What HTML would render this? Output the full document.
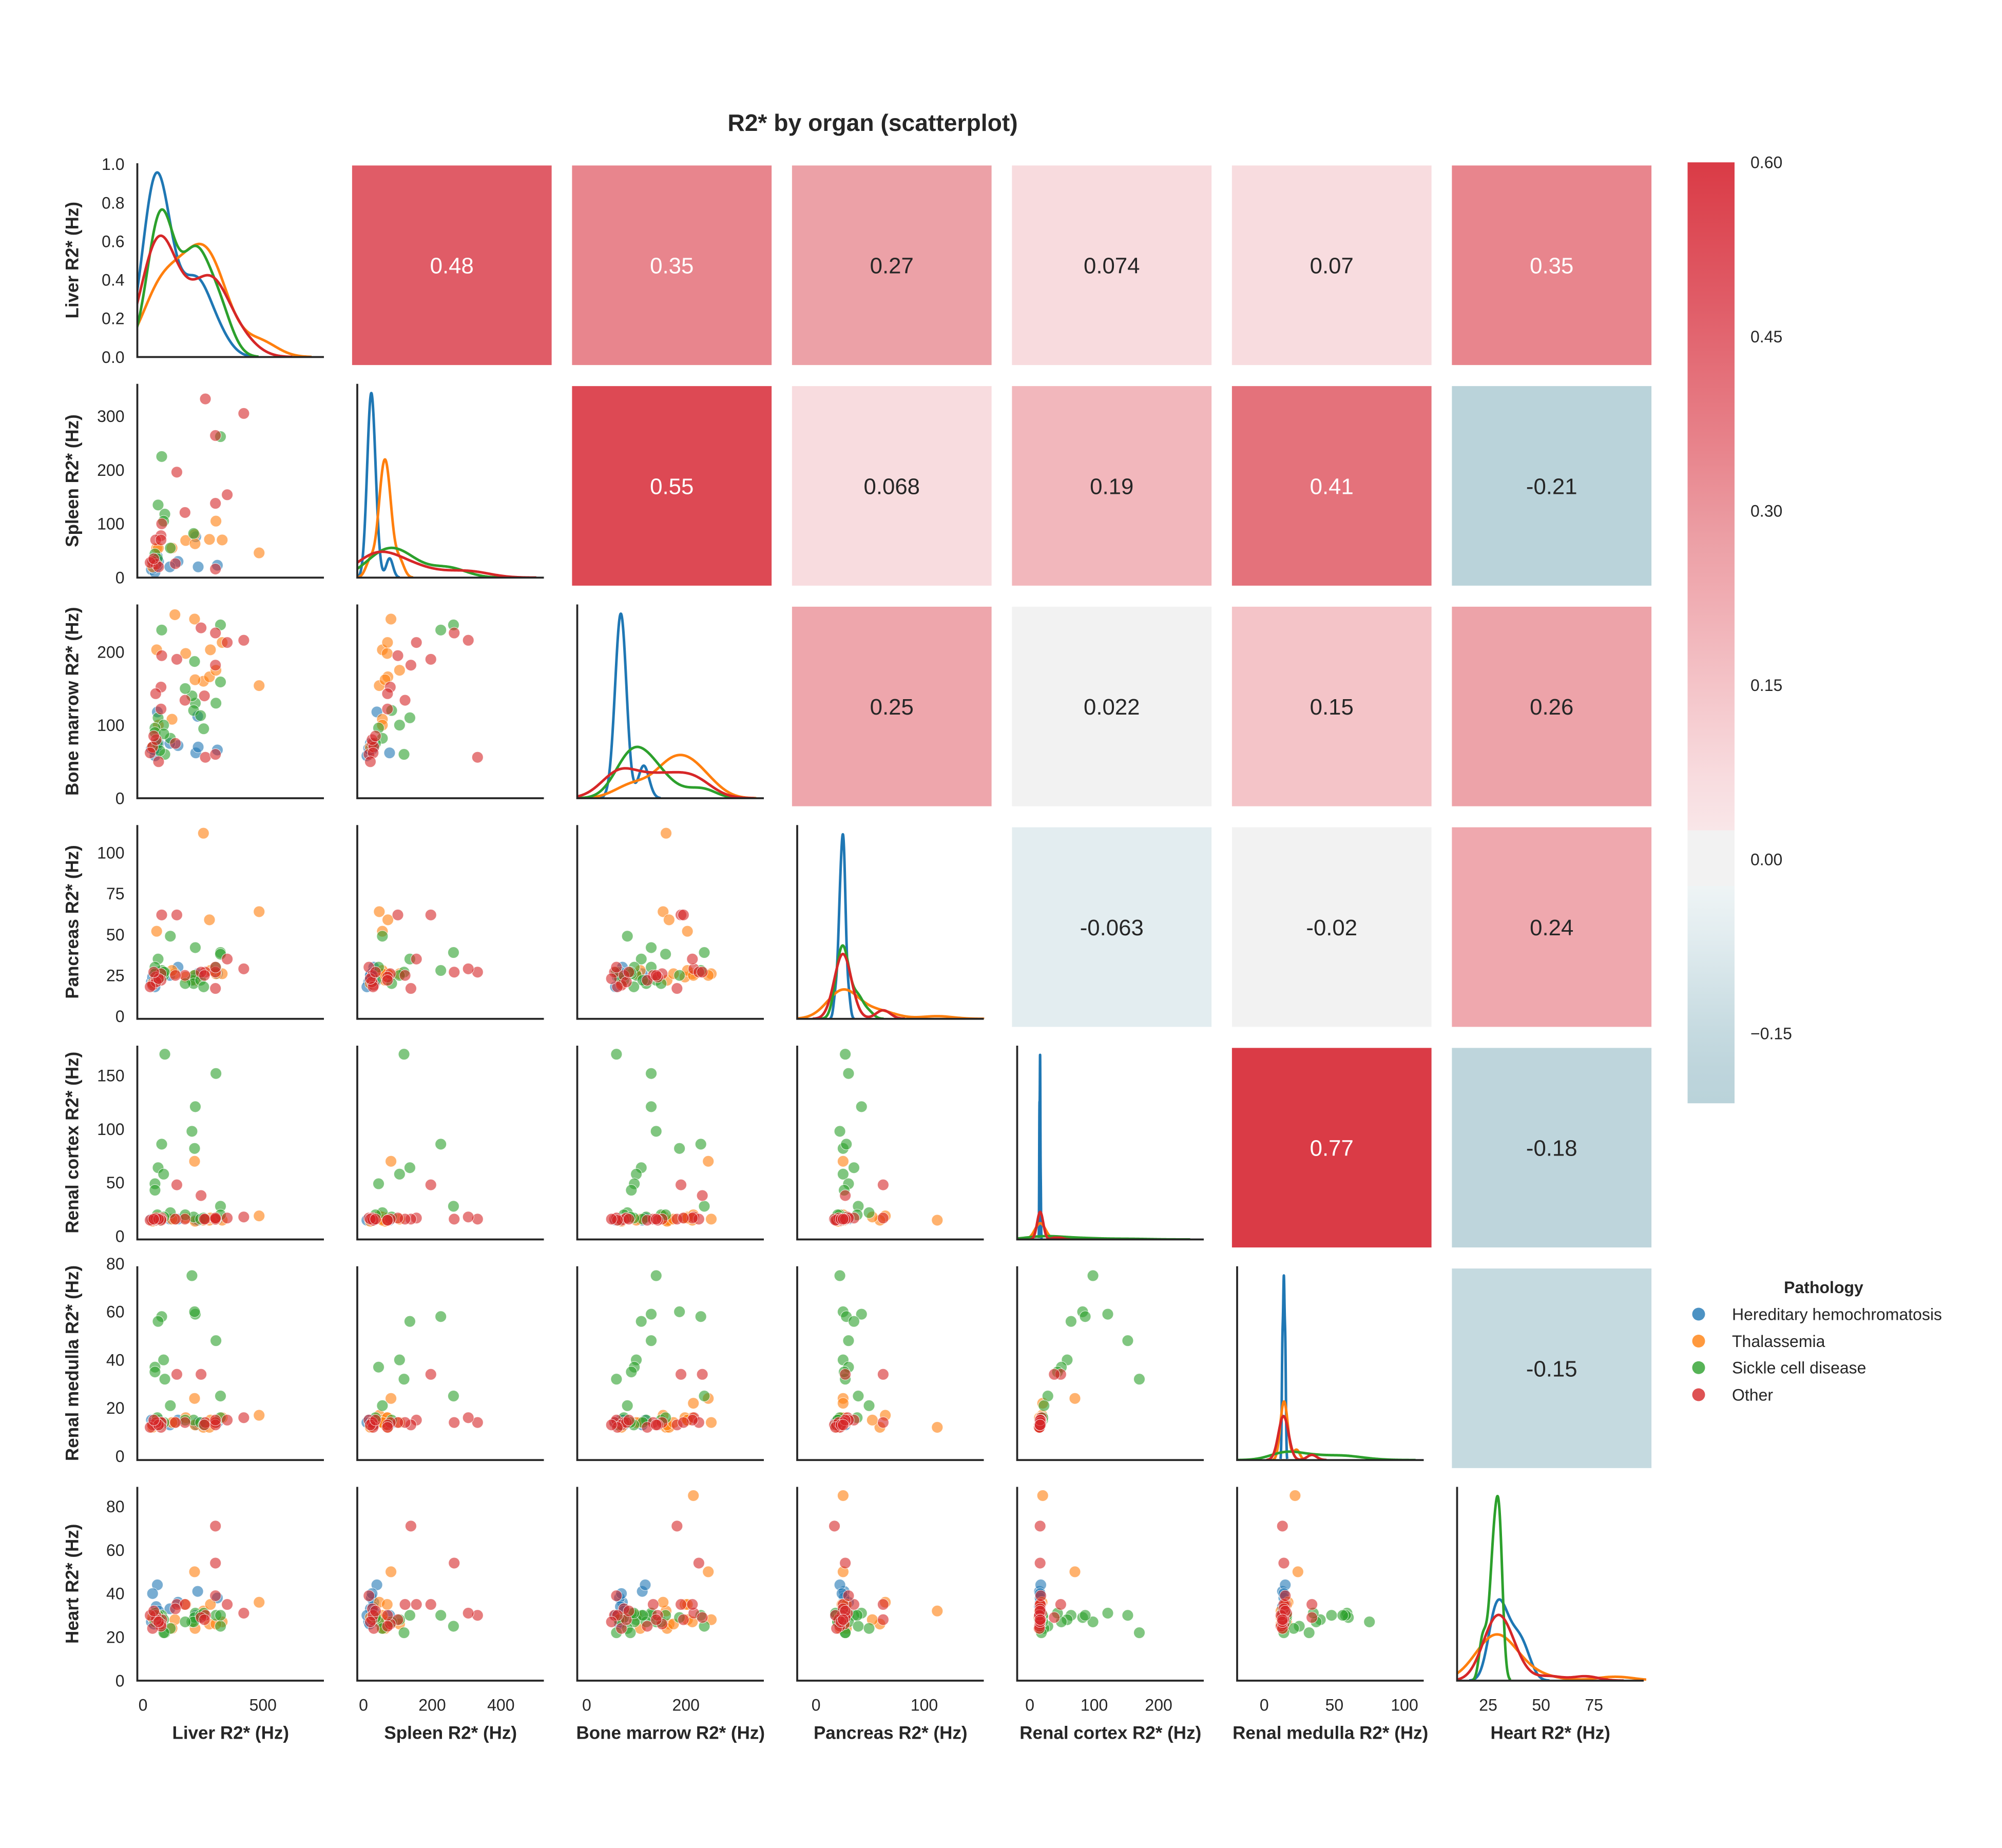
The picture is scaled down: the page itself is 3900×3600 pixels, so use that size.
<!DOCTYPE html>
<html>
<head>
<meta charset="utf-8">
<style>
html,body{margin:0;padding:0;background:#fff;}
svg{display:block;font-family:"Liberation Sans",Arial,sans-serif;}
</style>
</head>
<body>
<svg id="chart" xmlns="http://www.w3.org/2000/svg" width="3900" height="3600" viewBox="0 0 1560 1440">
  <rect x="0" y="0" width="1560" height="1440" fill="#ffffff"/>
  <text x="680" y="102" text-anchor="middle" font-size="18.5" font-weight="bold" fill="#262626">R2* by organ (scatterplot)</text>
  <g id="panels"></g>
  <g id="colorbar"></g>
  <g id="legend"></g>
</svg>
<script>
// ---------- DATA ----------
const varNames = ["Liver R2* (Hz)","Spleen R2* (Hz)","Bone marrow R2* (Hz)","Pancreas R2* (Hz)","Renal cortex R2* (Hz)","Renal medulla R2* (Hz)","Heart R2* (Hz)"];
const groupNames = ["Hereditary hemochromatosis","Thalassemia","Sickle cell disease","Other"];
const groupColors = ["#1f77b4","#ff7f0e","#2ca02c","#d62728"];
const patientGroup = [
  0,0,0,0,0,0,0,0,0,0,0,0,0,0,
  1,1,1,1,1,1,1,1,1,1,1,1,1,1,1,
  2,2,2,2,2,2,2,2,2,2,2,2,2,2,2,2,2,2,2,2,
  3,3,3,3,3,3,3,3,3,3,3,3,3,3,3,3,3,3,3,3
];
const liver    = [228,146,220,60,230,310,112,35,50,40,55,60,65,45,   133,252,215,484,277,57,330,178,217,121,64,281,40,304,null,   91,304,218,204,215,78,63,86,50,50,323,114,211,240,253,60,70,176,87,323,   260,420,302,141,351,302,175,78,75,53,75,242,302,135,40,55,30,65,45,256];
const spleen   = [null,30,76,39,20,23,20,15,10,25,28,22,30,18,        null,null,80,46,71,55,70,69,63,55,55,null,20,105,null, 118,null,null,null,null,225,135,105,44,null,262,55,82,null,null,35,null,null,null,null, 332,305,264,196,154,138,121,100,78,70,70,null,16,26,30,25,28,20,35,null];
const marrow   = [112,72,62,118,70,66,75,68,58,70,68,72,75,66,        251,160,245,154,166,203,213,198,162,108,100,203,70,175,215, 60,130,130,140,187,230,110,100,96,90,237,82,120,113,95,75,65,150,88,159, 56,216,226,190,213,182,134,195,152,143,122,233,60,75,70,80,62,50,85,140];
const pancreas = [26,30,24,22,25,26,25,21,18,24,27,23,26,22,          26,112,25,64,59,52,26,24,22,28,26,28,20,26,25,       27,30,42,22,25,28,35,25,30,26,39,49,20,22,18,22,24,20,27,38,  27,29,27,62,35,17,25,62,26,24,22,27,30,25,19,21,18,23,27,25];
const cortex   = [15,16,15,17,15,16,16,16,15,16,15,16,17,16,          16,15,70,19,15,18,15,17,14,16,15,17,14,16,20,        170,152,121,98,82,86,64,58,49,43,28,22,18,16,17,20,15,20,18,20,  16,18,16,48,17,16,16,17,16,15,15,38,17,16,15,17,15,16,16,16];
const medulla  = [13,15,13,15,14,14,13,15,14,14,13,14,15,14,          14,12,24,17,12,15,16,16,13,14,14,15,12,14,22,        32,48,59,75,60,58,56,40,37,35,25,21,15,14,13,16,13,15,14,16,  14,16,14,34,15,13,14,14,14,13,12,34,15,14,13,14,12,13,15,13];
const heart    = [41,36,30,44,29,38,33,27,30,40,34,28,32,26,          28,32,50,36,26,28,27,35,24,24,30,35,29,26,85,        22,30,31,27,29,30,30,28,27,31,25,24,27,30,31,29,28,27,22,30,  30,31,54,35,35,71,35,28,26,30,25,29,39,33,24,28,30,27,32,28];
const seriesByVar = [liver, spleen, marrow, pancreas, cortex, medulla, heart];
const corrRows = [0,0,0,0,0,0, 1,1,1,1,1, 2,2,2,2, 3,3,3, 4,4, 5];
const corrCols = [1,2,3,4,5,6, 2,3,4,5,6, 3,4,5,6, 4,5,6, 5,6, 6];
const corrVals = [0.48,0.35,0.27,0.074,0.07,0.35, 0.55,0.068,0.19,0.41,-0.21, 0.25,0.022,0.15,0.26, -0.063,-0.02,0.24, 0.77,-0.18, -0.15];
const xMin = [-23.6,-18,-19,-17.4,-19.6,-19.3,10.3];
const xMax = [754,525,357,155,270,113.7,98.5];
const yMin = [0,0,0,-1.6,-3,-1.6,0];
const yMax = [1.005,360,265,117,178,78.9,89];
const xTicks = [[0,500],[0,200,400],[0,200],[0,100],[0,100,200],[0,50,100],[25,50,75]];
const yTicks = [[0,0.2,0.4,0.6,0.8,1.0],[0,100,200,300],[0,100,200],[0,25,50,75,100],[0,50,100,150],[0,20,40,60,80],[0,20,40,60,80]];
const cbTicks = [0.60,0.45,0.30,0.15,0.00,-0.15];
const cbMin = -0.21, cbMax = 0.60;

// ---------- LAYOUT ----------
const NS = "http://www.w3.org/2000/svg";
const AX0 = 107, COLP = 171.4, AW = 145.4;
const AY0 = 127.2, ROWP = 171.9, AH = 151;
function colX(c){ return AX0 + c*COLP; }
function rowY(r){ return AY0 + r*ROWP; }
function sx(c, v){ return colX(c) + (v - xMin[c])/(xMax[c]-xMin[c])*AW; }
function sy(r, v){ return rowY(r) + AH - (v - yMin[r])/(yMax[r]-yMin[r])*AH; }
function mk(tag, attrs, parent){ const e=document.createElementNS(NS,tag); for(const k in attrs) e.setAttribute(k,attrs[k]); parent.appendChild(e); return e; }

const cmStops = [[-0.21,[186,211,218]],[-0.18,[190,213,220]],[-0.15,[197,218,224]],[-0.063,[227,237,240]],[-0.023,[238,244,245]],[-0.0229,[242,242,242]],[0.025,[242,242,242]],[0.0251,[249,230,232]],[0.07,[248,220,223]],[0.24,[239,168,174]],[0.27,[236,161,167]],[0.35,[232,133,141]],[0.48,[224,92,103]],[0.6,[218,59,70]]];
function cmap(v){
  if(v<=cmStops[0][0]) return "rgb("+cmStops[0][1].join(",")+")";
  for(let i=1;i<cmStops.length;i++){
    if(v<=cmStops[i][0]){
      const a=cmStops[i-1], b=cmStops[i], t=(v-a[0])/(b[0]-a[0]);
      return "rgb("+a[1].map((q,k)=>Math.round(q+(b[1][k]-q)*t)).join(",")+")";
    }
  }
  return "rgb("+cmStops[cmStops.length-1][1].join(",")+")";
}

const panels = document.getElementById("panels");

function kdeGroup(vals){
  const n = vals.length; if(n<2) return null;
  const mean = vals.reduce((a,b)=>a+b,0)/n;
  const sd = Math.sqrt(vals.reduce((a,b)=>a+(b-mean)*(b-mean),0)/(n-1));
  const bw = Math.max(sd,1e-6)*Math.pow(n,-0.2);
  return {bw, f:(x)=>{ let s=0; for(const v of vals){ const z=(x-v)/bw; s+=Math.exp(-0.5*z*z);} return s/(n*bw*Math.sqrt(2*Math.PI)); }, lo:Math.min(...vals)-3*bw, hi:Math.max(...vals)+3*bw};
}

for(let r=0;r<7;r++){
  for(let c=0;c<7;c++){
    const x0=colX(c), y0=rowY(r);
    if(c>r){
      let idx=-1; for(let i=0;i<corrVals.length;i++){ if(corrRows[i]===r && corrCols[i]===c) idx=i; }
      const v = corrVals[idx];
      const cx = x0+AW/2+1, cy = y0+AH/2+4;
      const cell = mk("rect",{x:cx-77.75,y:cy-77.75,width:155.5,height:155.5,fill:cmap(v)},panels);
      
      
      const t = mk("text",{x:cx,y:cy+6.3,"text-anchor":"middle","font-size":"17.5",fill:(v>0.3?"#ffffff":"#262626")},panels);
      t.textContent = String(v);
      
      
      continue;
    }
    const g = mk("g",{},panels);
    
    
    const clipId = "clip"+r+"_"+c;
    const cp = mk("clipPath",{id:clipId},g);
    mk("rect",{x:x0,y:y0-3,width:AW+2,height:AH+3},cp);
    const plot = mk("g",{"clip-path":"url(#"+clipId+")"},g);
    if(r===c){
      const data = seriesByVar[c];
      const curves=[]; let maxD=0;
      for(let gi=0;gi<4;gi++){
        const vals=[]; for(let i=0;i<data.length;i++) if(patientGroup[i]===gi && data[i]!==null) vals.push(data[i]);
        const k=kdeGroup(vals); if(!k){curves.push(null);continue;}
        const pts=[];
        const N=300;
        for(let j=0;j<=N;j++){ const x=k.lo+(k.hi-k.lo)*j/N; const d=k.f(x); pts.push([x,d]); if(d>maxD) maxD=d; }
        curves.push(pts);
      }
      const top = maxD*1.05;
      curves.forEach((pts,gi)=>{
        if(!pts) return;
        const d = pts.map((p,j)=>(j?"L":"M")+sx(c,p[0]).toFixed(2)+","+(y0+AH-p[1]/top*AH).toFixed(2)).join(" ");
        const pth = mk("path",{d:d,fill:"none",stroke:groupColors[gi],"stroke-width":"2","stroke-linejoin":"round"},plot);
        
        
      });
    } else {
      const xs = seriesByVar[c], ys = seriesByVar[r];
      for(let gi=0;gi<4;gi++){
        for(let i=0;i<xs.length;i++){
          if(patientGroup[i]!==gi || xs[i]===null || ys[i]===null) continue;
          const pt = mk("circle",{cx:sx(c,xs[i]).toFixed(2),cy:sy(r,ys[i]).toFixed(2),r:"4.4",fill:groupColors[gi],"fill-opacity":"0.6",stroke:"#ffffff","stroke-width":"0.4","stroke-opacity":"0.8"},plot);
          
          
        }
      }
    }
    const sp = mk("path",{d:"M"+x0+","+y0+" L"+x0+","+(y0+AH)+" L"+(x0+AW)+","+(y0+AH),fill:"none",stroke:"#262626","stroke-width":"1.5"},g);
    
    
    if(c===0){
      for(const tv of yTicks[r]){
        const t = mk("text",{x:x0-10,y:(sy(r,tv)+4.5).toFixed(2),"text-anchor":"end","font-size":"12.8",fill:"#262626"},g);
        t.textContent = r===0 ? tv.toFixed(1) : String(tv);
        
        
      }
      const yl = mk("text",{x:0,y:0,transform:"translate(61,"+(y0+AH/2)+") rotate(-90)","text-anchor":"middle","font-size":"14","font-weight":"bold",fill:"#262626"},g);
      yl.textContent = varNames[r];
      
      
    }
    if(r===6){
      for(const tv of xTicks[c]){
        const t = mk("text",{x:sx(c,tv).toFixed(2),y:"1333","text-anchor":"middle","font-size":"12.8",fill:"#262626"},g);
        t.textContent = String(tv);
        
        
      }
      const xl = mk("text",{x:x0+AW/2,y:"1355","text-anchor":"middle","font-size":"14","font-weight":"bold",fill:"#262626"},g);
      xl.textContent = varNames[c];
      
      
    }
  }
}

// ---------- COLORBAR ----------
const cb = document.getElementById("colorbar");
const CBX=1315, CBW=36.6, CBT=126.5, CBB=859.7;
function cby(v){ return CBT + (cbMax - v)/(cbMax-cbMin)*(CBB-CBT); }
const defs = mk("defs",{},cb);
const lg = mk("linearGradient",{id:"cbgrad",x1:"0",y1:"1",x2:"0",y2:"0"},defs);
for(const s of cmStops){
  mk("stop",{offset:((s[0]-cbMin)/(cbMax-cbMin)).toFixed(4),"stop-color":"rgb("+s[1].join(",")+")"},lg);
}
const cbr = mk("rect",{x:CBX,y:CBT,width:CBW,height:CBB-CBT,fill:"url(#cbgrad)"},cb);


for(const tv of cbTicks){
  const t = mk("text",{x:"1364",y:(cby(tv)+4.5).toFixed(2),"font-size":"12.8",fill:"#262626"},cb);
  t.textContent = (tv<0?"\u2212":"") + Math.abs(tv).toFixed(2);
  
  
}

// ---------- LEGEND ----------
const lgd = document.getElementById("legend");
const lt = mk("text",{x:"1421",y:"1007.5","text-anchor":"middle","font-size":"12.8","font-weight":"bold",fill:"#262626"},lgd);
lt.textContent = "Pathology";


const legendY = [1024,1045,1065.7,1086.8];
groupNames.forEach((nm,gi)=>{
  const e = mk("g",{},lgd);
  
  
  mk("circle",{cx:"1323.6",cy:legendY[gi],r:"5",fill:groupColors[gi],"fill-opacity":"0.8"},e);
  const t = mk("text",{x:"1349.6",y:(legendY[gi]+4.5),"font-size":"12.8",fill:"#262626"},e);
  t.textContent = nm;
});
</script>
</body>
</html>
